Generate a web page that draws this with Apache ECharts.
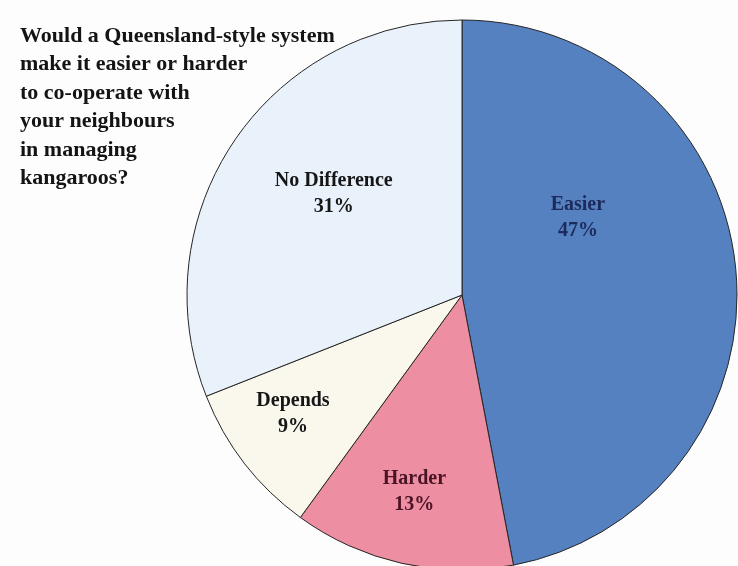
<!DOCTYPE html>
<html>
<head>
<meta charset="utf-8">
<script src="https://cdn.jsdelivr.net/npm/echarts@6/dist/echarts.min.js"></script>
<style>
  html, body { margin: 0; padding: 0; background: #fdfdfd; }
  #chart { width: 738px; height: 566px; }
</style>
</head>
<body>
<div id="chart"></div>
<script>
// Survey answers (percent of respondents)
const categories = ['Easier', 'Harder', 'Depends', 'No Difference'];
const values = [47, 13, 9, 31];
const questionLines = [
  'Would a Queensland-style system',
  'make it easier or harder',
  'to co-operate with',
  'your neighbours',
  'in managing',
  'kangaroos?'
];

// Slice appearance, in category order
const sliceColors = ['#5681c1', '#ee8ea2', '#faf7ec', '#e9f2fb'];
const labelColors = ['#1c2b5c', '#4a1424', '#161616', '#161616'];
// Nudges that move each label from the default inside spot
const labelShift = [[-24, -64], [-17, 60], [-58, 33], [-12, -22]];

const chart = echarts.init(document.getElementById('chart'));

chart.setOption({
  backgroundColor: '#fdfdfd',
  animation: false,
  title: {
    text: questionLines.join('\n'),
    left: 15,
    top: 17,
    textStyle: {
      fontFamily: 'Liberation Serif',
      fontWeight: 'bold',
      fontSize: 22,
      lineHeight: 28.5,
      color: '#141414'
    }
  },
  series: [{
    type: 'pie',
    center: [462, 295],
    radius: 275,
    startAngle: 90,
    clockwise: true,
    avoidLabelOverlap: false,
    itemStyle: { borderColor: '#262626', borderWidth: 1 },
    label: {
      position: 'inside',
      formatter: '{b}\n{c}%',
      fontFamily: 'Liberation Serif',
      fontWeight: 'bold',
      fontSize: 20,
      lineHeight: 26,
      align: 'center'
    },
    labelLayout: function (params) {
      const s = labelShift[params.dataIndex];
      return { dx: s[0], dy: s[1] };
    },
    emphasis: { disabled: true },
    data: categories.map((name, i) => ({
      name: name,
      value: values[i],
      itemStyle: { color: sliceColors[i] },
      label: { color: labelColors[i] }
    }))
  }]
});
</script>
</body>
</html>
